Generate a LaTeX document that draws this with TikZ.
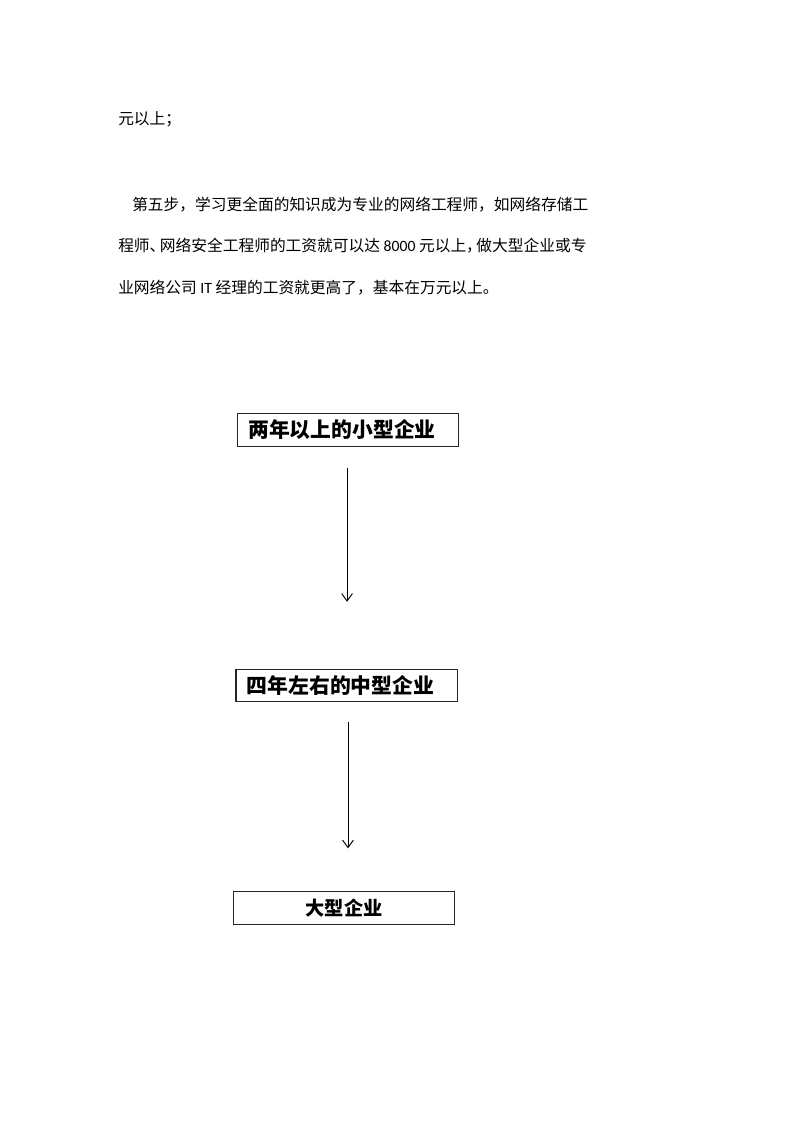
\documentclass[tikz,border=0pt]{standalone}
\usepackage{fontspec}
\setmainfont{Noto Sans CJK SC}
\newfontfamily\latfont{Carlito}
\usepackage{tikz}
\usetikzlibrary{arrows.meta}

\begin{document}
\begin{tikzpicture}[x=0.7441pt,y=-0.7441pt,
  bodyline/.style={anchor=west,inner sep=0pt,font=\fontsize{11.7pt}{14pt}\selectfont},
  stagebox/.style={draw=black!85,line width=0.8pt,rectangle,minimum width=164.5pt,minimum height=24pt,
    inner xsep=8pt,text width=148.5pt,align=left,font=\fontsize{15.5pt}{18pt}\selectfont\bfseries},
  flow/.style={-{Straight Barb[length=5.5pt,width=8pt]},line width=0.7pt}]
\useasboundingbox (0,0) rectangle (800,1132);

% Text above
\node[bodyline] (l1) at (118,119) {元以上；};
\node[bodyline] (l2) at (132,204.5) {第五步，学习更全面的知识成为专业的网络工程师，如网络存储工};
\node[bodyline] (l3) at (118,246) {程师、\kern-0.35em网络安全工程师的工资就可以达{\latfont\ 8000 }元以上，\kern-0.35em做大型企业或专};
\node[bodyline] (l4) at (118,287.5) {业网络公司{\latfont\ IT }经理的工资就更高了，基本在万元以上。};

% Stage boxes
\node[stagebox] (small) at (348,430) {两年以上的小型企业};
\node[stagebox] (medium) at (346.5,685.5) {四年左右的中型企业};
\node[stagebox,align=center,font=\fontsize{14.3pt}{17pt}\selectfont\bfseries] (large) at (344,908) {大型企业};

% Arrows
\draw[flow,shorten <=15.6pt,shorten >=49.9pt] ([xshift=-0.7pt]small.south) -- ([xshift=-0.7pt]small.south |- medium.north);
\draw[flow,shorten <=14.9pt,shorten >=32pt] ([xshift=1.1pt]medium.south) -- ([xshift=1.1pt]medium.south |- large.north);
\end{tikzpicture}
\end{document}
